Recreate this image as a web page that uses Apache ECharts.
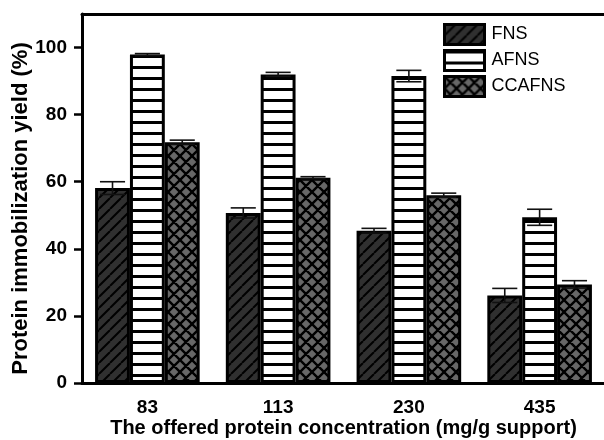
<!DOCTYPE html>
<html>
<head>
<meta charset="utf-8">
<script src="https://cdn.jsdelivr.net/npm/echarts@6/dist/echarts.min.js"></script>
<style>html,body{margin:0;padding:0;background:#fff}#c{width:604px;height:440px}</style>
</head>
<body>
<div id="c"></div>
<script>
// ---- data ----
const categories = ['83', '113', '230', '435'];
const seriesNames = ['FNS', 'AFNS', 'CCAFNS'];
const fns = [58.1, 50.7, 45.4, 26.1];
const fnsErr = [1.9, 1.5, 0.7, 2.1];
const afns = [97.9, 92.0, 91.5, 49.4];
const afnsErr = [0.3, 0.6, 1.7, 2.4];
const ccafns = [71.8, 61.2, 56.0, 29.4];
const ccafnsErr = [0.6, 0.3, 0.6, 1.1];
const yTicks = [0, 20, 40, 60, 80, 100];

// ---- patterns ----
function makePattern(kind) {
  const c = document.createElement('canvas');
  const ctx = c.getContext('2d');
  if (kind === 'diag') {
    const s = 11;
    c.width = s; c.height = s;
    ctx.fillStyle = '#303030'; ctx.fillRect(0, 0, s, s);
    ctx.strokeStyle = '#000'; ctx.lineWidth = 2;
    ctx.beginPath();
    for (let k = -1; k <= 1; k++) {
      ctx.moveTo(k * s, s); ctx.lineTo(k * s + s, 0);
    }
    ctx.stroke();
  } else if (kind === 'horiz') {
    c.width = 4; c.height = 11;
    ctx.fillStyle = '#fff'; ctx.fillRect(0, 0, 4, 11);
    ctx.fillStyle = '#000'; ctx.fillRect(0, 0, 4, 3);
  } else {
    const s = 12;
    c.width = s; c.height = s;
    ctx.fillStyle = '#676767'; ctx.fillRect(0, 0, s, s);
    ctx.strokeStyle = '#000'; ctx.lineWidth = 2.4;
    ctx.beginPath();
    for (let k = -1; k <= 1; k++) {
      ctx.moveTo(k * s, s); ctx.lineTo(k * s + s, 0);
      ctx.moveTo(k * s, 0); ctx.lineTo(k * s + s, s);
    }
    ctx.stroke();
  }
  return { image: c, repeat: 'repeat' };
}
const patterns = [makePattern('diag'), makePattern('horiz'), makePattern('cross')];
const values = [fns, afns, ccafns];
const errs = [fnsErr, afnsErr, ccafnsErr];

const FONT = '"Liberation Sans", Arial, sans-serif';
const chart = echarts.init(document.getElementById('c'), null, { renderer: 'canvas' });

const series = [];
seriesNames.forEach((name, i) => {
  series.push({
    name: name,
    type: 'bar',
    data: values[i],
    barGap: '0%',
    barCategoryGap: '20%',
    itemStyle: { color: patterns[i], borderColor: '#000', borderWidth: 3 },
    z: 2
  });
});
seriesNames.forEach((name, i) => {
  series.push({
    type: 'custom',
    name: name + '_err',
    z: 5,
    silent: true,
    encode: { x: 0, y: 1 },
    data: values[i].map((v, k) => [k, v, errs[i][k]]),
    renderItem: function (params, api) {
      const ci = api.value(0), v = api.value(1), e = api.value(2);
      const band = api.size([1, 0])[0];
      const bw = band * 0.8 / 3;
      const cx = api.coord([ci, v])[0] + (i - 1) * bw;
      const yT = api.coord([ci, v + e])[1];
      const yB = api.coord([ci, v - e])[1];
      const hw = bw * 0.36;
      const st = { stroke: '#111', lineWidth: 1.6 };
      return {
        type: 'group',
        children: [
          { type: 'line', shape: { x1: cx, y1: yT, x2: cx, y2: yB }, style: st },
          { type: 'line', shape: { x1: cx - hw, y1: yT, x2: cx + hw, y2: yT }, style: st },
          { type: 'line', shape: { x1: cx - hw, y1: yB, x2: cx + hw, y2: yB }, style: st }
        ]
      };
    }
  });
});

chart.setOption({
  animation: false,
  backgroundColor: '#fff',
  grid: { left: 82, top: 14, width: 523, height: 369, containLabel: false, outerBoundsMode: 'none' },
  legend: {
    data: seriesNames,
    orient: 'vertical',
    left: 443, top: 23,
    padding: 0,
    itemWidth: 40, itemHeight: 20, itemGap: 3,
    icon: 'rect',
    itemStyle: { borderColor: '#000', borderWidth: 3 },
    textStyle: { fontFamily: FONT, fontSize: 18, color: '#000', padding: [0, 0, 0, 2] }
  },
  xAxis: [{
    type: 'category',
    data: categories,
    name: 'The offered protein concentration (mg/g support)',
    nameLocation: 'middle',
    nameGap: 35,
    nameMoveOverlap: false,
    nameTextStyle: { fontFamily: FONT, fontSize: 20, fontWeight: 'bold', color: '#000' },
    axisLine: { lineStyle: { color: '#000', width: 3 } },
    axisTick: { alignWithLabel: true, length: 8, lineStyle: { color: '#000', width: 2.5 } },
    axisLabel: { margin: 15, fontFamily: FONT, fontSize: 19, fontWeight: 'bold', color: '#000' }
  }, {
    type: 'category',
    data: categories,
    position: 'top',
    axisLine: { show: true, lineStyle: { color: '#000', width: 3 } },
    axisTick: { show: false },
    axisLabel: { show: false }
  }],
  yAxis: {
    type: 'value',
    min: 0, max: 110, interval: 20,
    name: 'Protein immobilization yield (%)',
    nameLocation: 'middle',
    nameGap: 50,
    nameMoveOverlap: false,
    nameTextStyle: { fontFamily: FONT, fontSize: 22, fontWeight: 'bold', color: '#000', padding: [0, 20, 0, 0] },
    splitLine: { show: false },
    axisLine: { show: true, lineStyle: { color: '#000', width: 3 } },
    axisTick: { show: true, length: 8, customValues: yTicks, lineStyle: { color: '#000', width: 2.5 } },
    axisLabel: { margin: 15, customValues: yTicks, fontFamily: FONT, fontSize: 19, fontWeight: 'bold', color: '#000' }
  },
  series: series
});
</script>
</body>
</html>
